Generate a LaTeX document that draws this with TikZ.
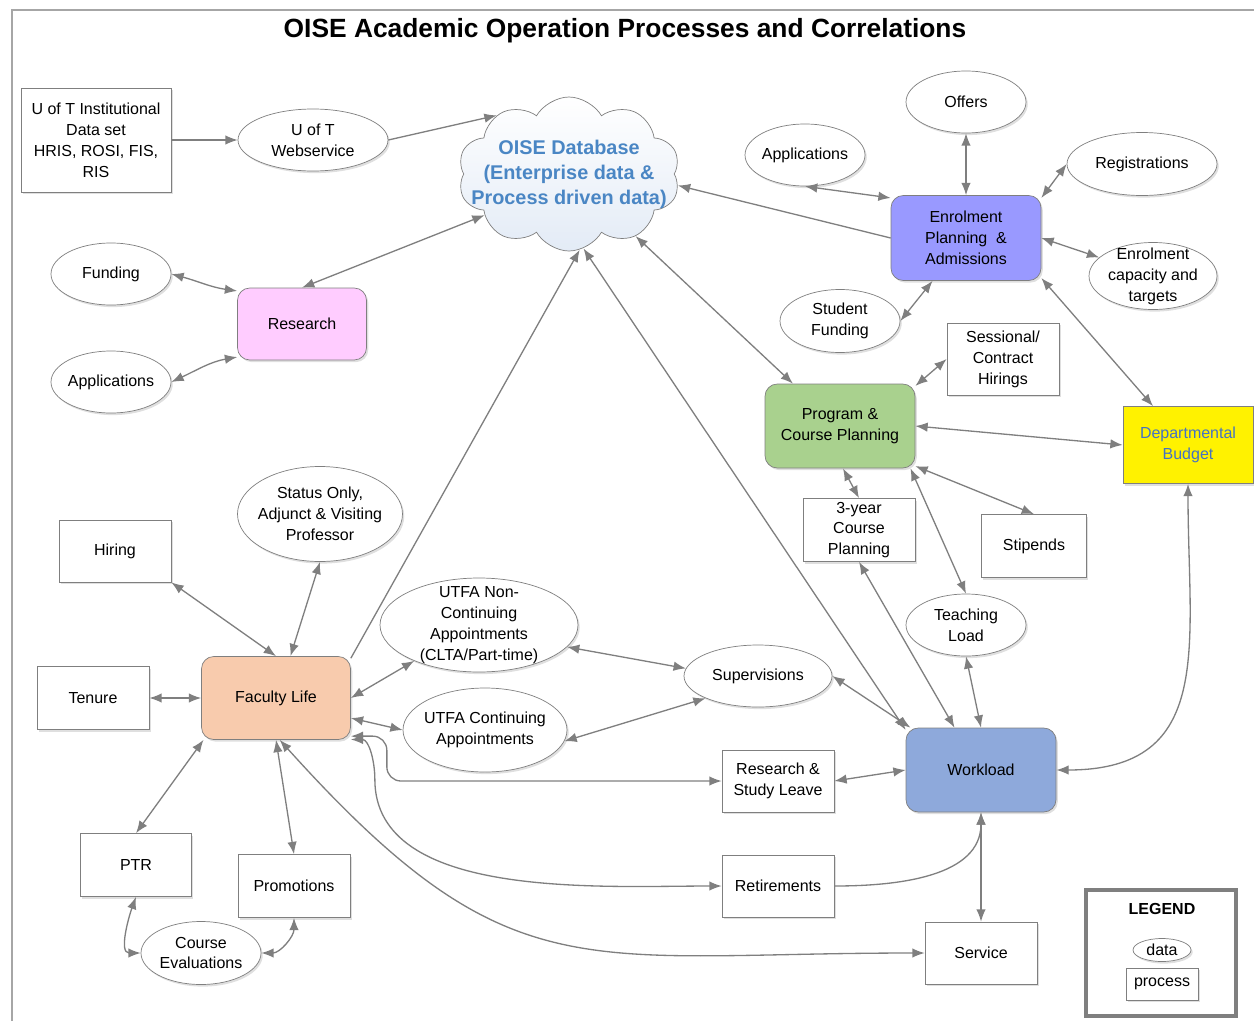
\documentclass[tikz,border=0pt]{standalone}
\usepackage{fontspec}
\setmainfont{Liberation Sans}
\usepackage{tikz}
\usetikzlibrary{arrows.meta,shapes.geometric,shapes.symbols,shadows}
\definecolor{linegray}{HTML}{7F7F7F}
\definecolor{framegray}{HTML}{A6A6A6}
\definecolor{respink}{HTML}{FFCCFF}
\definecolor{enrblue}{HTML}{9999FF}
\definecolor{proggreen}{HTML}{A9D18E}
\definecolor{facorange}{HTML}{F8CBAD}
\definecolor{wlblue}{HTML}{8EA9DB}
\definecolor{dbtext}{HTML}{4A86C4}
\definecolor{budtext}{HTML}{4472C4}
\definecolor{cloudfill}{HTML}{E3EBF6}
\newcommand{\boxfont}{\fontsize{9.1}{11.9}\selectfont}
\newcommand{\dbfont}{\fontsize{11.3}{14.2}\selectfont\bfseries}
\newcommand{\titlefont}{\fontsize{15}{17}\selectfont\bfseries}

\begin{document}
\begin{tikzpicture}[x=0.02cm,y=-0.02cm,>={Latex[length=7pt,width=5.4pt]},
    sz/.style 2 args={minimum width=#1*0.02cm,minimum height=#2*0.02cm},
    soft/.style={drop shadow={shadow xshift=1pt,shadow yshift=-1.2pt,opacity=0.25}},
    data/.style={ellipse,draw=linegray,fill=white,inner sep=-40pt,align=center,font=\boxfont,soft},
    proc/.style={rectangle,draw=linegray,fill=white,inner sep=0pt,align=center,font=\boxfont,soft},
    task/.style={proc,rounded corners=7pt},
    link/.style={draw=linegray,line width=0.75pt}]
        \useasboundingbox(0,0)rectangle(1254,1021);
        \draw[framegray,line width=1.2pt](12,1021)--(12,10)--(1254,10);
        \node[font=\titlefont](title)at(625,31){OISE Academic Operation Processes and Correlations};
        \node[proc,sz={150}{104}](inst)at(96,140){U of T Institutional\\Data set\\HRIS, ROSI, FIS,\\RIS};
        \node[data,sz={150}{62}](web)at(313,140){U of T\\Webservice};
        \node[cloud,cloud puffs=10,cloud puff arc=120,cloud ignores aspect,sz={222}{154},draw=linegray,
            top color=white,bottom color=cloudfill,align=center,inner sep=-30pt,font=\dbfont,text=dbtext]
            (db)at(569,174){OISE Database\\(Enterprise data \&\\Process driven data)};
        \node[data,sz={120}{62}](fund)at(111,274){Funding};
        \node[task,sz={129}{72},fill=respink](res)at(302,324){Research};
        \node[data,sz={120}{62}](appl)at(111,382){Applications};
        \node[data,sz={120}{62}](appr)at(805,155){Applications};
        \node[data,sz={120}{62}](off)at(966,102){Offers};
        \node[data,sz={150}{63}](reg)at(1142,164){Registrations};
        \node[task,sz={150}{85},fill=enrblue](enr)at(966,238){Enrolment\\Planning \ \&\\Admissions};
        \node[data,sz={128}{67}](cap)at(1153,276){Enrolment\\capacity and\\targets};
        \node[data,sz={120}{63}](sfund)at(840,321){Student\\Funding};
        \node[proc,sz={112}{72}](sess)at(1003,359){Sessional/\\Contract\\Hirings};
        \node[task,sz={150}{84},fill=proggreen](prog)at(840,426){Program \&\\Course Planning};
        \node[proc,sz={130}{77},fill=yellow,text=budtext](bud)at(1188,445){Departmental\\Budget};
        \node[proc,sz={112}{63}](yr)at(859,530){3-year\\Course\\Planning};
        \node[proc,sz={105}{63}](stip)at(1034,546){Stipends};
        \node[data,sz={165}{95}](stat)at(320,514){Status Only,\\Adjunct \& Visiting\\Professor};
        \node[proc,sz={112}{62}](hir)at(115,551){Hiring};
        \node[data,sz={198}{94}](nonc)at(479,625){UTFA Non-\\Continuing\\Appointments\\(CLTA/Part-time)};
        \node[data,sz={120}{62}](teach)at(966,625){Teaching\\Load};
        \node[data,sz={148}{62}](sup)at(758,676){Supervisions};
        \node[proc,sz={112}{63}](ten)at(93,698){Tenure};
        \node[task,sz={149}{83},fill=facorange](fac)at(276,698){Faculty Life};
        \node[data,sz={164}{84}](cont)at(485,730){UTFA Continuing\\Appointments};
        \node[proc,sz={112}{62}](rsl)at(778,781){Research \&\\Study Leave};
        \node[task,sz={150}{84},fill=wlblue](wl)at(981,770){Workload};
        \node[proc,sz={111}{63}](ptr)at(136,865){PTR};
        \node[proc,sz={112}{63}](prom)at(294,886){Promotions};
        \node[proc,sz={112}{62}](ret)at(778,886){Retirements};
        \node[data,sz={120}{63}](ce)at(201,953){Course\\Evaluations};
        \node[proc,sz={112}{62}](serv)at(981,953){Service};
        \node[draw=linegray,line width=2.2pt,sz={150}{126}](leg)at(1161,953){};
        \node[font=\boxfont\bfseries](legt)at(1162,909){LEGEND};
        \node[data,sz={58}{23}](legd)at(1162,950){data};
        \node[proc,sz={72}{32}](legp)at(1162,984){process};
        \draw[link,->](inst)--(web);
        \draw[link,->](web.east)--(db.141);
        \draw[link,<->](res.north)--(db.206);
        \draw[link,<->](fund.east)to[out=-15,in=172](res.153);
        \draw[link,<->](appl.east)to[out=25,in=190](res.207);
        \draw[link,->](enr.west)--(db.354);
        \draw[link,<->](appr.south)--(enr.152);
        \draw[link,<->](off)--(enr);
        \draw[link,<->](reg.west)--(enr.28);
        \draw[link,<->](enr.east)--(cap.161);
        \draw[link,<->](sfund.east)--(enr.232);
        \draw[link,<->](enr.332)--(bud.132);
        \draw[link,<->](db.317)--(prog.138);
        \draw[link,<->](sess.west)--(prog.28);
        \draw[link,<->](prog.east)--(bud.west);
        \draw[link,<->](prog.274)--(yr.north);
        \draw[link,<->](prog.332)--(stip.north);
        \draw[link,<->](prog.329)--(teach.north);
        \draw[link,<->](yr.south)--(wl.122);
        \draw[link,<->](db.281)--(wl.152);
        \draw[link,->](fac.28)--(db.278);
        \draw[link,<->](teach.south)--(wl.north);
        \draw[link,<->](sup.east)--(wl.149);
        \draw[link,<->](bud.south)to[out=-90,in=0,looseness=1.3](wl.east);
        \draw[link,<->](rsl.east)--(wl.west);
        \draw[link,->](ret.east)to[out=0,in=-90](wl.south);
        \draw[link,<->](wl.south)--(serv.north);
        \draw[link,<->](hir.south east)--(fac.north);
        \draw[link,<->](stat.south)--(fac.71);
        \draw[link,<->](ten)--(fac);
        \draw[link,<->](fac.east)--(nonc.209);
        \draw[link,<->](fac.345)--(cont.west);
        \draw[link,<->](nonc.346)--(sup.174);
        \draw[link,<->](cont.352)--(sup.203);
        \draw[link,<->,rounded corners=8pt](fac.333)--++(36,0)|-(rsl.west);
        \draw[link,<->](fac.331)to[out=0,in=90]++(24,40)to[out=-90,in=180,looseness=0.85](ret.west);
        \draw[link,<->](fac.275)to[out=-48,in=180,looseness=1.3](serv.west);
        \draw[link,<->](fac.south)--(prom.north);
        \draw[link,<->](fac.210)--(ptr.north);
        \draw[link,<->](ptr.south)to[out=250,in=180](ce.west);
        \draw[link,<->](ce.east)to[out=0,in=270](prom.south);
    \end{tikzpicture}
\end{document}
